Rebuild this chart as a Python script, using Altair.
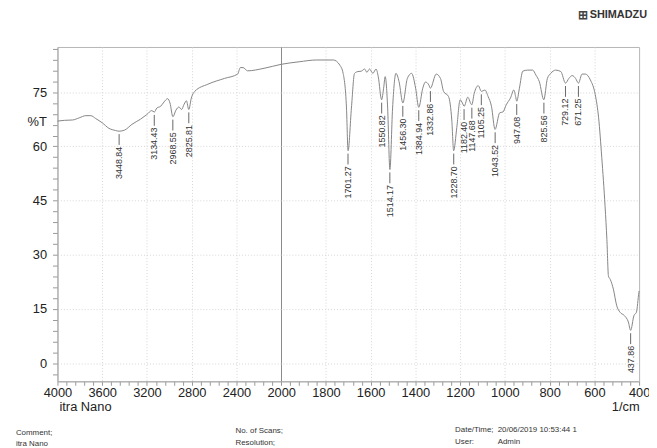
import altair as alt
import pandas as pd

# ---- spectrum (wavenumber 1/cm, %T) ----
wavenumber = [4000, 3938, 3865, 3805, 3746, 3702, 3658, 3599, 3540, 3481, 3449, 3400,
              3334, 3259, 3201, 3157, 3134, 3112, 3077, 3047, 3015, 2994, 2968, 2941,
              2914, 2891, 2867, 2847, 2826, 2803, 2773, 2655, 2507, 2389, 2365, 2340,
              2301, 2153, 2000, 1920, 1841, 1767, 1738, 1723, 1708, 1701, 1686, 1672,
              1657, 1642, 1627, 1617, 1605, 1590, 1576, 1566, 1551, 1542, 1535, 1524,
              1514, 1502, 1487, 1473, 1456, 1436, 1417, 1399, 1385, 1367, 1355, 1340,
              1333, 1307, 1288, 1274, 1252, 1237, 1229, 1215, 1200, 1190, 1182, 1166,
              1148, 1137, 1119, 1105, 1089, 1075, 1060, 1044, 1023, 1009, 994, 975,
              960, 952, 947, 935, 920, 898, 876, 861, 846, 826, 810, 795, 773, 750,
              729, 714, 699, 684, 671, 655, 640, 618, 596, 581, 567, 552, 544, 537,
              529, 515, 500, 485, 466, 448, 438, 423, 412, 401, 400]
transmittance = [67.0, 67.2, 67.3, 67.9, 68.5, 68.5, 67.7, 66.5, 65.0, 64.4, 64.2, 64.5,
                 66.1, 67.5, 68.8, 69.9, 69.5, 70.6, 71.1, 72.3, 73.2, 72.0, 68.2, 70.0,
                 70.9, 70.2, 71.7, 72.6, 70.2, 73.4, 75.2, 77.2, 78.8, 80.0, 81.8, 81.8,
                 80.9, 81.6, 82.7, 83.4, 83.9, 83.9, 82.5, 80.2, 70.6, 58.8, 70.6, 80.2,
                 80.7, 80.8, 81.4, 80.5, 81.4, 80.2, 81.4, 79.3, 72.9, 76.1, 79.3, 70.6,
                 53.6, 70.6, 80.2, 77.9, 72.0, 78.8, 80.2, 76.1, 70.8, 76.1, 77.8, 77.0,
                 76.1, 80.0, 78.8, 75.2, 73.8, 67.0, 58.8, 65.2, 72.9, 72.0, 71.1, 73.6,
                 71.5, 74.7, 76.8, 75.2, 75.6, 73.8, 71.1, 64.7, 69.3, 69.5, 71.5, 73.4,
                 75.6, 73.8, 72.5, 76.1, 80.8, 81.1, 81.1, 79.7, 77.9, 72.9, 78.8, 80.2,
                 81.1, 80.7, 77.5, 78.8, 79.6, 78.8, 77.5, 80.0, 80.0, 78.4, 74.3, 67.9,
                 57.0, 43.3, 34.2, 24.1, 23.2, 20.5, 15.9, 14.1, 13.2, 11.4, 9.1, 13.2,
                 14.1, 19.6, 20.0]

# ---- peak picks ----
peak_labels = ["3448.84", "3134.43", "2968.55", "2825.81", "1701.27", "1550.82",
               "1514.17", "1456.30", "1384.94", "1332.86", "1228.70", "1182.40",
               "1147.68", "1105.25", "1043.52", "947.08", "825.56", "729.12",
               "671.25", "437.86"]
peak_T = [64.2, 69.5, 68.2, 70.2, 58.8, 72.9, 53.6, 72.0, 70.8, 76.1, 58.8, 71.1,
          71.5, 75.2, 64.7, 72.5, 72.9, 77.5, 77.5, 9.1]

spec = pd.DataFrame({"wn": wavenumber, "T": transmittance})
peaks = pd.DataFrame({"label": peak_labels,
                      "wn": [float(s) for s in peak_labels],
                      "T": peak_T})

POS = "datum.wn >= 2000 ? (4000 - datum.wn) / 2 : 1000 + (2000 - datum.wn)"
FONT = "Liberation Sans"

xscale = alt.Scale(domain=[0, 2600], nice=False, zero=False)
yscale = alt.Scale(domain=[-5, 87.5], nice=False, zero=False)

xaxis = alt.Axis(
    values=list(range(0, 2601, 40)),
    labelExpr="datum.value % 200 === 0 ? (datum.value <= 1000 ? 4000 - 2 * datum.value : 3000 - datum.value) : ''",
    labelFont=FONT, labelFontSize=13, labelColor="#222", labelPadding=1,
    labelFlush=False, labelOverlap=False,
    tickColor="#999", tickSize=4, domainColor="#aaa",
    grid=True,
    gridColor={"condition": {"test": "datum.value === 1000", "value": "#8a8a8a"}, "value": "#d6d6d6"},
    gridOpacity={"condition": {"test": "datum.value % 200 === 0 && datum.value > 0 && datum.value < 2600", "value": 1}, "value": 0},
    gridDash={"condition": {"test": "datum.value === 1000", "value": []}, "value": [1, 2]},
    title="1/cm", titleFont=FONT, titleFontSize=13, titleFontWeight="normal",
    titleColor="#222", titleX=588, titleY=25, titleAlign="right", titleBaseline="middle",
)
yaxis = alt.Axis(
    values=list(range(-3, 88, 3)),
    labelExpr="datum.value % 15 === 0 ? datum.value : ''",
    labelFont=FONT, labelFontSize=13, labelColor="#222", labelPadding=6,
    labelOverlap=False,
    tickColor="#999", tickSize=5, domainColor="#aaa",
    grid=True, gridColor="#d6d6d6", gridDash=[1, 2],
    gridOpacity={"condition": {"test": "datum.value % 15 === 0", "value": 1}, "value": 0},
    title="%T", titleFont=FONT, titleFontSize=13, titleFontWeight="normal",
    titleColor="#222", titleAngle=0, titleX=-21, titleY=75,
    titleAlign="center", titleBaseline="middle",
)

xenc = alt.X("pos:Q", scale=xscale, axis=xaxis)

line = alt.Chart(spec).transform_calculate(pos=POS).mark_line(
    color="#858585", strokeWidth=1, interpolate="monotone"
).encode(x=xenc, y=alt.Y("T:Q", scale=yscale, axis=yaxis))

ticks = alt.Chart(peaks).transform_calculate(
    pos=POS, y1="datum.T - 0.8", y2="datum.T - 3.8"
).mark_rule(color="#666", strokeWidth=1).encode(
    x=xenc, y=alt.Y("y1:Q", scale=yscale, axis=yaxis), y2="y2:Q"
)

labels = alt.Chart(peaks).transform_calculate(
    pos=POS, yt="datum.T - 4.3"
).mark_text(angle=270, align="right", baseline="middle", font=FONT,
            fontSize=9, color="#333").encode(
    x=xenc, y=alt.Y("yt:Q", scale=yscale, axis=yaxis), text="label:N"
)

dummy = pd.DataFrame({"d": [0]})


def note(txt, x, y, size=8, weight="normal", color="#333"):
    return alt.Chart(dummy).mark_text(
        text=txt, align="left", baseline="middle", font=FONT,
        fontSize=size, fontWeight=weight, color=color
    ).encode(x=alt.value(x), y=alt.value(y))


notes = [
    note("⊞", 526, -32, size=12, weight="bold", color="#444"),
    note("SHIMADZU", 538, -32, size=11, weight="bold", color="#333"),
    note("itra Nano", 2, 364, size=13, color="#222"),
    note("Comment;", -42, 390),
    note("itra Nano", -42, 401),
    note("No. of Scans;", 180, 388),
    note("Resolution;", 180, 400),
    note("Date/Time;", 402, 387),
    note("20/06/2019 10:53:44 1", 445, 387),
    note("User:", 402, 399),
    note("Admin", 445, 399),
]

chart = alt.layer(line, ticks, labels, *notes).properties(
    width=588, height=338,
    autosize=alt.AutoSizeParams(type="none"),
    padding={"left": 50, "top": 37, "right": 10, "bottom": 65},
    background="white",
).configure_view(stroke="#b5b5b5")

chart.save("out.html", embed_options={"renderer": "svg", "actions": False})
